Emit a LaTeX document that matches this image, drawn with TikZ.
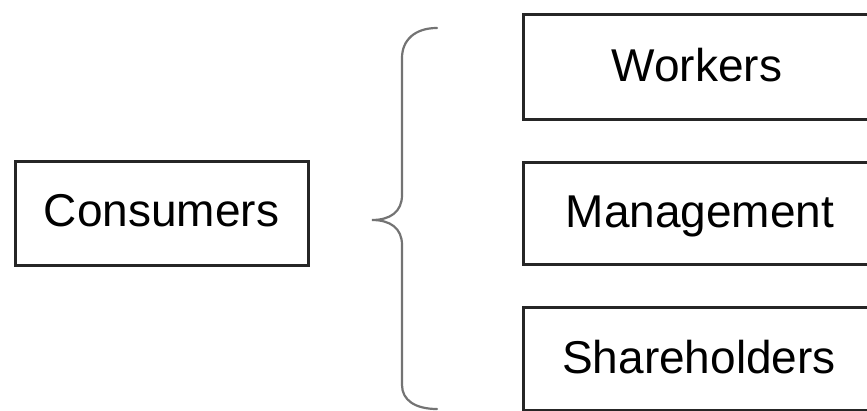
\documentclass[tikz,border=0pt]{standalone}
\usepackage{fontspec}
\setmainfont{Liberation Sans}
\begin{document}
\begin{tikzpicture}[x=1pt,y=-1pt,
  box/.style={draw=black!85, line width=3pt, rectangle, inner sep=0pt,
    font=\fontsize{46}{50}\selectfont, text depth=7pt},
  bracel/.style={draw=black!55, line width=2.2pt, line cap=round}]
\useasboundingbox (0,0) rectangle (867,411);
\clip (0,0) rectangle (867,411);
\fill[white] (0,0) rectangle (867,411);
\node[box, minimum width=293pt, minimum height=104pt, text height=33pt, text depth=7pt] (cons) at (161.5,214) {Consumers};
\node[box, minimum width=348pt, minimum height=105pt, text height=36pt, text depth=7pt] (work) at (697,67.5) {Workers};
\node[box, minimum width=354pt, minimum height=102pt, text height=35pt, text depth=7pt] (mgmt) at (700,214) {Management};
\node[box, minimum width=352pt, minimum height=102.5pt, text height=35pt, text depth=7pt] (share) at (699,359.2) {Shareholders};
\coordinate (btop) at (437,28);
\coordinate (btip) at (372,220);
\coordinate (bbot) at (437,409);
\draw[bracel] (btop) .. controls (415,28) and (402,40) .. (402,58) -- (402,195)
  .. controls (402,212) and (390,220) .. (btip)
  .. controls (390,220) and (402,228) .. (402,245) -- (402,385)
  .. controls (402,400) and (415,409) .. (bbot);
\end{tikzpicture}
\end{document}
